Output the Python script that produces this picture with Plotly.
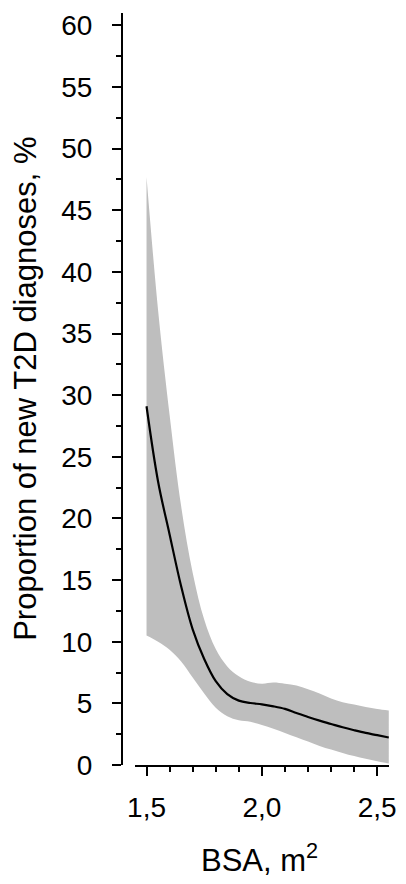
import plotly.graph_objects as go

bsa = [1.50, 1.55, 1.60, 1.65, 1.70, 1.75, 1.80, 1.85, 1.90, 1.95, 2.00,
       2.05, 2.10, 2.15, 2.20, 2.25, 2.30, 2.35, 2.40, 2.45, 2.50, 2.55]
fit = [29.1, 23.0, 18.7, 14.5, 11.0, 8.6, 6.8, 5.75, 5.22, 5.03, 4.92,
       4.76, 4.55, 4.22, 3.9, 3.6, 3.33, 3.06, 2.82, 2.6, 2.42, 2.23]
upper = [47.7, 36.9, 28.4, 21.0, 15.6, 11.8, 9.4, 8.0, 7.2, 6.75, 6.6,
         6.7, 6.6, 6.45, 6.15, 5.8, 5.4, 5.1, 4.9, 4.7, 4.55, 4.42]
lower = [10.5, 10.0, 9.35, 8.4, 7.1, 5.8, 4.65, 3.95, 3.62, 3.5, 3.25,
         2.95, 2.6, 2.25, 1.9, 1.55, 1.25, 0.98, 0.72, 0.5, 0.3, 0.13]

y_title = "Proportion of new T2D diagnoses, %"
x_title = "BSA, m<sup>2</sup>"

FONT = "Arial, Liberation Sans, sans-serif"

fig = go.Figure()
fig.add_trace(go.Scatter(x=bsa, y=lower, mode="lines", line=dict(width=0, shape="spline"),
                         showlegend=False, hoverinfo="skip"))
fig.add_trace(go.Scatter(x=bsa, y=upper, mode="lines", line=dict(width=0, shape="spline"),
                         fill="tonexty", fillcolor="#BEBEBE", showlegend=False, hoverinfo="skip"))
fig.add_trace(go.Scatter(x=bsa, y=fit, mode="lines", line=dict(color="black", width=2.2, shape="spline"),
                         showlegend=False))

axis_common = dict(showgrid=False, zeroline=False, showline=True, linecolor="black", linewidth=2,
                   ticks="outside", ticklen=9, tickwidth=2, tickcolor="black",
                   tickfont=dict(family=FONT, size=28, color="black"))

fig.update_layout(
    width=406, height=884,
    margin=dict(l=122, r=12, t=10, b=119),
    paper_bgcolor="white", plot_bgcolor="white",
    separators=",.",
    font=dict(family=FONT, color="black"),
    xaxis=dict(range=[1.449, 2.551], domain=[13 / 272, 1], tickmode="linear", tick0=1.5, dtick=0.5,
               tickformat=".1f", ticklabelstandoff=7,
               minor=dict(dtick=0.1, tick0=1.5, ticks="outside", ticklen=5, tickwidth=2, tickcolor="black"),
               **axis_common),
    yaxis=dict(range=[0, 61], anchor="free", position=0, tickmode="linear", tick0=0, dtick=5,
               ticklabelstandoff=14,
               minor=dict(dtick=2.5, tick0=0, ticks="outside", ticklen=5, tickwidth=2, tickcolor="black"),
               **axis_common),
    annotations=[
        dict(text=y_title, xref="paper", yref="paper", x=(23 - 122) / 272, y=0.5, textangle=-90,
             xanchor="center", yanchor="middle", showarrow=False,
             font=dict(family=FONT, size=31, color="black")),
        dict(text=x_title, xref="paper", yref="paper", x=(262 - 122) / 272, y=(765 - 858) / 755,
             xanchor="center", yanchor="middle", showarrow=False,
             font=dict(family=FONT, size=31, color="black")),
    ],
)

fig.write_html("out.html")
